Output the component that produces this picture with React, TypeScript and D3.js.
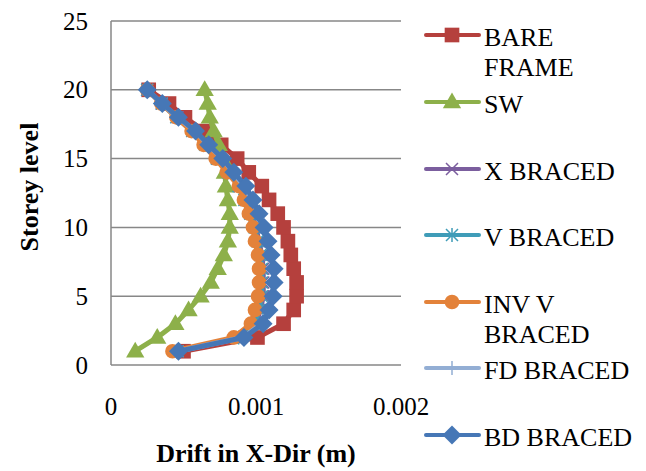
import * as d3 from 'd3';
import React from 'react';

// storey levels 1..20
const storeys = [1, 2, 3, 4, 5, 6, 7, 8, 9, 10, 11, 12, 13, 14, 15, 16, 17, 18, 19, 20];

const bareFrame = [0.00050, 0.00101, 0.00119, 0.00126, 0.00128, 0.00128, 0.00126, 0.00124, 0.00122, 0.00119, 0.00115, 0.00109, 0.00104, 0.00095, 0.00087, 0.00076, 0.00064, 0.00051, 0.00040, 0.00026];
const sw = [0.000167, 0.000319, 0.000444, 0.000535, 0.000618, 0.000688, 0.000736, 0.000778, 0.000806, 0.000819, 0.000819, 0.000806, 0.000792, 0.000785, 0.000771, 0.000743, 0.000708, 0.000681, 0.000667, 0.000646];
const xBraced = [0.00046, 0.00089, 0.00100, 0.00103, 0.00105, 0.00105, 0.00105, 0.00104, 0.00102, 0.00100, 0.00097, 0.00093, 0.00089, 0.00082, 0.00074, 0.00066, 0.00057, 0.00046, 0.00035, 0.00025];
const vBraced = [0.00046, 0.00088, 0.00099, 0.00102, 0.00104, 0.00104, 0.00104, 0.00103, 0.00101, 0.00099, 0.00096, 0.00092, 0.00088, 0.00081, 0.00073, 0.00065, 0.00056, 0.00045, 0.00035, 0.00025];
const invV = [0.000424, 0.000847, 0.000965, 0.000993, 0.001014, 0.001021, 0.001021, 0.001014, 0.000993, 0.000979, 0.000951, 0.000917, 0.000882, 0.000799, 0.000722, 0.000639, 0.000556, 0.000451, 0.000347, 0.00025];
const fdBraced = [0.00046, 0.00091, 0.00104, 0.00108, 0.00111, 0.00112, 0.00112, 0.00110, 0.00108, 0.00105, 0.00102, 0.00097, 0.00092, 0.00084, 0.00077, 0.00067, 0.00058, 0.00046, 0.00035, 0.00025];
const bdBraced = [0.000465, 0.000917, 0.001049, 0.00109, 0.001118, 0.001125, 0.001125, 0.001104, 0.001083, 0.001056, 0.001021, 0.000979, 0.00093, 0.000847, 0.000771, 0.000674, 0.000583, 0.000465, 0.000354, 0.00025];

const xTicks = [0, 0.001, 0.002];
const xTickLabels = ['0', '0.001', '0.002'];
const yTicks = [0, 5, 10, 15, 20, 25];

const seriesNames = [['BARE', 'FRAME'], ['SW'], ['X BRACED'], ['V BRACED'], ['INV V', 'BRACED'], ['FD BRACED'], ['BD BRACED']];
const seriesData = [bareFrame, sw, xBraced, vBraced, invV, fdBraced, bdBraced];
const seriesColors = ['#B5403D', '#8DB04A', '#7B5E9E', '#3F9CB8', '#E3823A', '#93AED4', '#4677B6'];
const seriesMarkers = ['square', 'triangle', 'x', 'star', 'circle', 'plus', 'diamond'];

const W = 646, H = 471;
const plot = { left: 111, right: 401, top: 21, bottom: 365 };
const FONT = '"Liberation Serif", "Times New Roman", serif';

const x = d3.scaleLinear().domain([0, 0.002]).range([plot.left, plot.right]);
const y = d3.scaleLinear().domain([0, 25]).range([plot.bottom, plot.top]);

function Marker({ kind, color, cx, cy }: { kind: string; color: string; cx: number; cy: number }) {
  const t = `translate(${cx},${cy})`;
  if (kind === 'square') return <path transform={t} d={d3.symbol(d3.symbolSquare, 215)()!} fill={color} />;
  if (kind === 'triangle') return <path transform={`${t} translate(0,1)`} d={d3.symbol(d3.symbolTriangle, 145)()!} fill={color} />;
  if (kind === 'circle') return <path transform={t} d={d3.symbol(d3.symbolCircle, 170)()!} fill={color} />;
  if (kind === 'diamond') return <path transform={`${t} rotate(45)`} d={d3.symbol(d3.symbolSquare, 180)()!} fill={color} />;
  if (kind === 'x') return <path transform={t} d="M-6,-6L6,6M-6,6L6,-6" stroke={color} strokeWidth={1.5} fill="none" />;
  if (kind === 'star') return <path transform={t} d="M-6,-6L6,6M-6,6L6,-6M0,-7L0,7" stroke={color} strokeWidth={1.5} fill="none" />;
  return <path transform={t} d="M0,-7L0,7M-7,0L7,0" stroke={color} strokeWidth={1.5} fill="none" />;
}

export default function App() {
  const line = d3.line<number>().x(d => x(d)).y((d, i) => y(storeys[i]));
  const legendY = [35, 102, 169, 235, 302, 368, 435];

  return (
    <svg width={W} height={H} style={{ position: 'absolute', left: 0, top: 0, background: '#fff' }} fontFamily={FONT}>
      {/* gridlines */}
      {yTicks.map(t => (
        <line key={t} x1={plot.left} x2={plot.right} y1={y(t)} y2={y(t)} stroke="#878787" strokeWidth={1.5} />
      ))}
      <line x1={plot.left} x2={plot.left} y1={plot.top} y2={plot.bottom} stroke="#878787" strokeWidth={1.5} />

      {/* axis labels */}
      {yTicks.map(t => (
        <text key={t} x={88} y={y(t) + 8.5} textAnchor="end" fontSize={25}>{t}</text>
      ))}
      {xTicks.map((t, i) => (
        <text key={t} x={x(t)} y={415} textAnchor="middle" fontSize={25}>{xTickLabels[i]}</text>
      ))}
      <text x={256} y={462} textAnchor="middle" fontSize={26} fontWeight="bold">Drift in X-Dir (m)</text>
      <text transform={`translate(38,187) rotate(-90)`} textAnchor="middle" fontSize={26} fontWeight="bold">Storey level</text>

      {/* series */}
      {seriesData.map((s, k) => (
        <g key={k}>
          <path d={line(s)!} fill="none" stroke={seriesColors[k]} strokeWidth={5} strokeLinejoin="round" />
          {s.map((v, i) => (
            <Marker key={i} kind={seriesMarkers[k]} color={seriesColors[k]} cx={x(v)} cy={y(storeys[i])} />
          ))}
        </g>
      ))}

      {/* legend */}
      {seriesNames.map((name, k) => (
        <g key={k}>
          <line x1={426} x2={479} y1={legendY[k]} y2={legendY[k]} stroke={seriesColors[k]} strokeWidth={4} strokeLinecap="round" />
          <Marker kind={seriesMarkers[k]} color={seriesColors[k]} cx={452} cy={legendY[k]} />
          {name.map((ln, j) => (
            <text key={j} x={484} y={legendY[k] + 11 + j * 30} fontSize={26}>{ln}</text>
          ))}
        </g>
      ))}
    </svg>
  );
}
